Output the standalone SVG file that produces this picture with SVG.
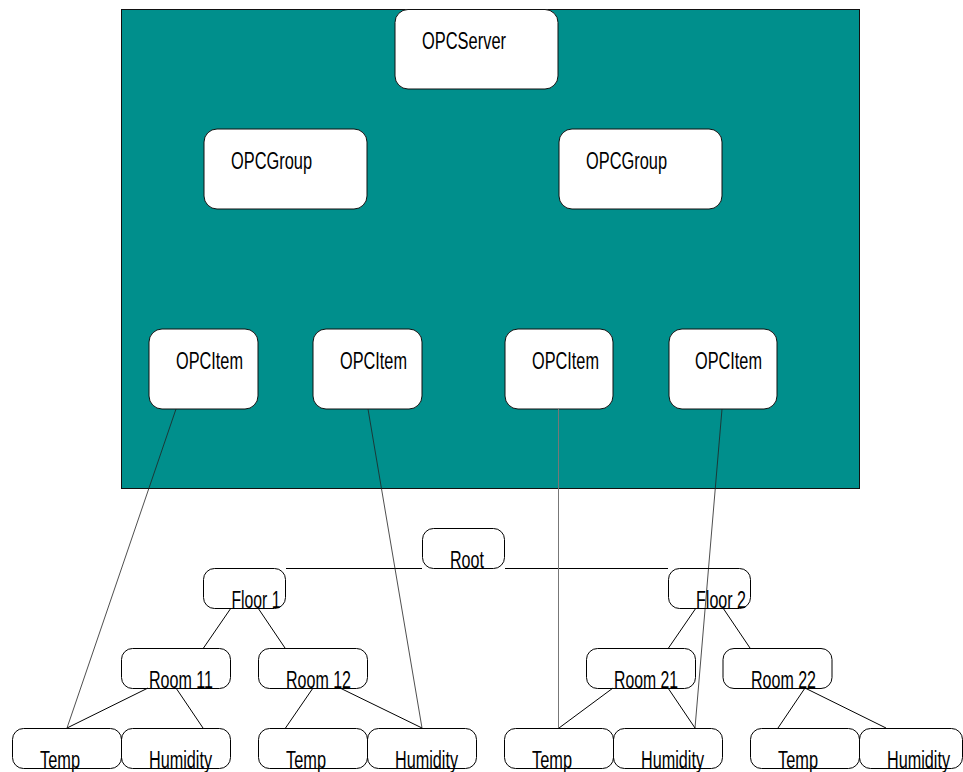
<svg xmlns="http://www.w3.org/2000/svg" width="963" height="772" viewBox="0 0 963 772">
<style>
text{font-family:"Liberation Sans",Arial,sans-serif;font-size:23px;fill:#000}
.w{fill:#fff;stroke:#111;stroke-width:1}
.o{fill:none;stroke:#000;stroke-width:1}
.c{stroke:#000;stroke-width:1;fill:none}
.t{stroke:#222;stroke-width:.8;fill:none}
.g{stroke:#777;stroke-width:1;fill:none}
</style>
<rect width="963" height="772" fill="#fff"/>
<rect id="panel" x="121.5" y="9.5" width="738" height="479" fill="#008f8c" stroke="#111" stroke-width="1"/>
<g id="server"><rect class="w" x="395" y="9.5" width="163" height="79.5" rx="13"/><text x="422" y="49" textLength="84" lengthAdjust="spacingAndGlyphs">OPCServer</text></g>
<g id="group1"><rect class="w" x="204" y="129" width="163" height="80" rx="13"/><text x="231" y="169" textLength="81" lengthAdjust="spacingAndGlyphs">OPCGroup</text></g>
<g id="group2"><rect class="w" x="559" y="129" width="163" height="80" rx="13"/><text x="586" y="169" textLength="81" lengthAdjust="spacingAndGlyphs">OPCGroup</text></g>
<g id="item1"><rect class="w" x="149" y="329" width="109" height="80" rx="13"/><text x="176" y="369" textLength="67" lengthAdjust="spacingAndGlyphs">OPCItem</text></g>
<g id="item2"><rect class="w" x="313" y="329" width="109" height="80" rx="13"/><text x="340" y="369" textLength="67" lengthAdjust="spacingAndGlyphs">OPCItem</text></g>
<g id="item3"><rect class="w" x="505" y="329" width="108" height="80" rx="13"/><text x="532" y="369" textLength="67" lengthAdjust="spacingAndGlyphs">OPCItem</text></g>
<g id="item4"><rect class="w" x="669" y="329" width="108" height="80" rx="13"/><text x="695" y="369" textLength="67" lengthAdjust="spacingAndGlyphs">OPCItem</text></g>
<g id="connectors">
<path class="c" d="M286 568.5H422M505 568.5H668M231 608L203.500 648M258 608L285 648M148 688L67 728M176 688L203 728M313 688L285.500 728M340 688L422 728M696 608L668.500 648M723 608L750 648M613 688L559 728M668 688L695 728M805 688L778 728M805 688L886 728"/>
<path class="t" d="M176 409L67 728M368 409L422 728M722 409L695 728"/>
<path class="g" d="M558.500 409V728"/>
</g>
<g id="root"><rect class="o" x="422.500" y="528.500" width="82" height="40" rx="11"/><text x="450" y="568" textLength="34" lengthAdjust="spacingAndGlyphs">Root</text></g>
<g id="floor1"><rect class="o" x="203.500" y="568.500" width="82" height="40" rx="11"/><text x="231.500" y="608" textLength="49" lengthAdjust="spacingAndGlyphs">Floor 1</text></g>
<g id="floor2"><rect class="o" x="668.500" y="568.500" width="82" height="40" rx="11"/><text x="696" y="608" textLength="50" lengthAdjust="spacingAndGlyphs">Floor 2</text></g>
<g id="room11"><rect class="o" x="121.500" y="648.500" width="109" height="40" rx="11"/><text x="149" y="688" textLength="64" lengthAdjust="spacingAndGlyphs">Room 11</text></g>
<g id="room12"><rect class="o" x="258.500" y="648.500" width="109" height="40" rx="11"/><text x="286" y="688" textLength="65" lengthAdjust="spacingAndGlyphs">Room 12</text></g>
<g id="room21"><rect class="o" x="586.500" y="648.500" width="109" height="40" rx="11"/><text x="614" y="688" textLength="64" lengthAdjust="spacingAndGlyphs">Room 21</text></g>
<g id="room22"><rect class="o" x="723" y="648.500" width="109" height="40" rx="11"/><text x="751" y="688" textLength="65" lengthAdjust="spacingAndGlyphs">Room 22</text></g>
<g id="temp11"><rect class="o" x="12.500" y="728.500" width="109" height="40" rx="11"/><text x="40" y="768" textLength="40" lengthAdjust="spacingAndGlyphs">Temp</text></g>
<g id="hum11"><rect class="o" x="121.500" y="728.500" width="109" height="40" rx="11"/><text x="149" y="768" textLength="63" lengthAdjust="spacingAndGlyphs">Humidity</text></g>
<g id="temp12"><rect class="o" x="258.500" y="728.500" width="109" height="40" rx="11"/><text x="286" y="768" textLength="40" lengthAdjust="spacingAndGlyphs">Temp</text></g>
<g id="hum12"><rect class="o" x="367.500" y="728.500" width="109" height="40" rx="11"/><text x="395" y="768" textLength="63" lengthAdjust="spacingAndGlyphs">Humidity</text></g>
<g id="temp21"><rect class="o" x="504.500" y="728.500" width="109" height="40" rx="11"/><text x="532" y="768" textLength="40" lengthAdjust="spacingAndGlyphs">Temp</text></g>
<g id="hum21"><rect class="o" x="613.500" y="728.500" width="109" height="40" rx="11"/><text x="641" y="768" textLength="63" lengthAdjust="spacingAndGlyphs">Humidity</text></g>
<g id="temp22"><rect class="o" x="750.500" y="728.500" width="109" height="40" rx="11"/><text x="778" y="768" textLength="40" lengthAdjust="spacingAndGlyphs">Temp</text></g>
<g id="hum22"><rect class="o" x="859.500" y="728.500" width="103" height="40" rx="11"/><text x="887" y="768" textLength="63" lengthAdjust="spacingAndGlyphs">Humidity</text></g>
</svg>
